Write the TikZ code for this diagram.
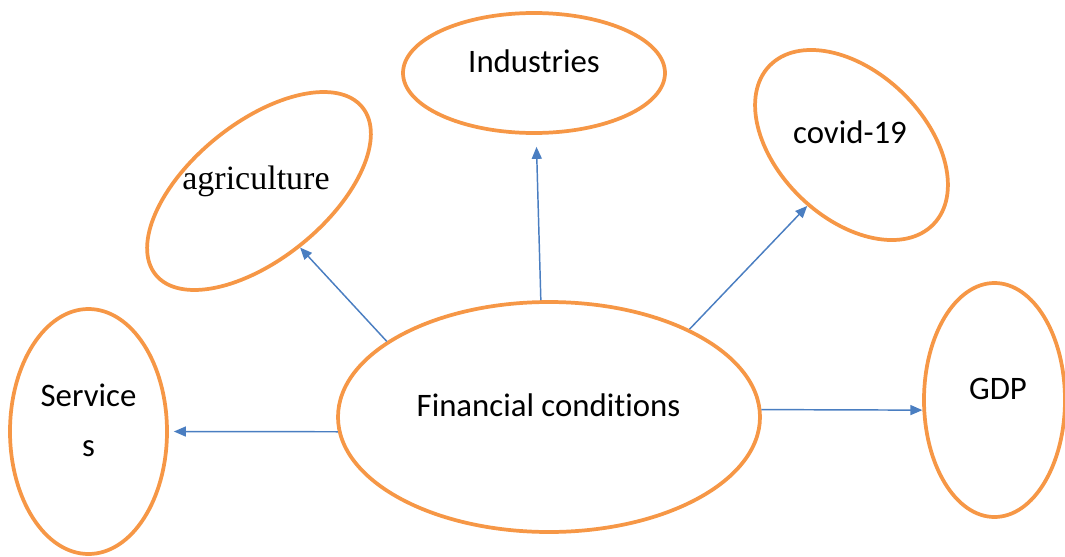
\documentclass[tikz,border=0pt]{standalone}
\usepackage{fontspec}
\usetikzlibrary{shapes.geometric,arrows.meta}
\newfontfamily\bodysans[Ligatures=NoCommon]{Carlito}
\newfontfamily\bodyserif{Liberation Serif}
\definecolor{rimorange}{RGB}{246,151,70}
\definecolor{linkblue}{RGB}{74,126,193}
\tikzset{
  bubble/.style={ellipse, draw=rimorange, line width=2.8pt, inner sep=0pt, fill=white},
  caption/.style={anchor=base, inner sep=0pt, text=black, font=\bodysans\fontsize{24.6}{29.5}\selectfont},
  link/.style={draw=linkblue, line width=1.1pt, -{Triangle[length=9pt,width=7.5pt]}}
}
\begin{document}
\begin{tikzpicture}[x=0.75pt, y=-0.75pt]
  \useasboundingbox (0,0) rectangle (1065,557);

  % ellipses
  \node[bubble, minimum width=196.5pt, minimum height=90pt]  (ind)  at (534,73)    {};
  \node[bubble, minimum width=316.5pt, minimum height=172.5pt] (fin) at (549,417) {};
  \node[bubble, minimum width=117.75pt, minimum height=183.75pt] (serv) at (88.5,431.5) {};
  \node[bubble, minimum width=105.75pt, minimum height=175.5pt] (gdp) at (994.5,400) {};
  \node[bubble, minimum width=199.5pt, minimum height=102pt, rotate=39]  (agri) at (259,191) {};
  \node[bubble, minimum width=171pt, minimum height=109.5pt, rotate=-44] (cov)  at (851.5,145) {};

  % labels
  \node[caption] (indText)   at (534,72)   {Industries};
  \node[caption] (finText)   at (548.5,416.5) {Financial conditions};
  \node[caption] (servTextA) at (88.5,406) {Service};
  \node[caption] (servTextB) at (88.5,456) {s};
  \node[caption] (gdpText)   at (998,399)  {GDP};
  \node[caption] (covText)   at (850,143)  {covid-19};
  \node[caption, font=\bodyserif\fontsize{25.5}{30.6}\selectfont] (agriText) at (256,189) {agriculture};

  % connectors
  \draw[link, shorten >=9pt]   (fin.94.5) -- (ind.272);
  \draw[link]                  (fin.155)  -- (agri.267);
  \draw[link]                  (fin.32)   -- (cov.278);
  \draw[link, shorten >=3.75pt] (fin.184) -- (serv.east);
  \draw[link]                  (fin.2.2)  -- (gdp.188);
\end{tikzpicture}
\end{document}
